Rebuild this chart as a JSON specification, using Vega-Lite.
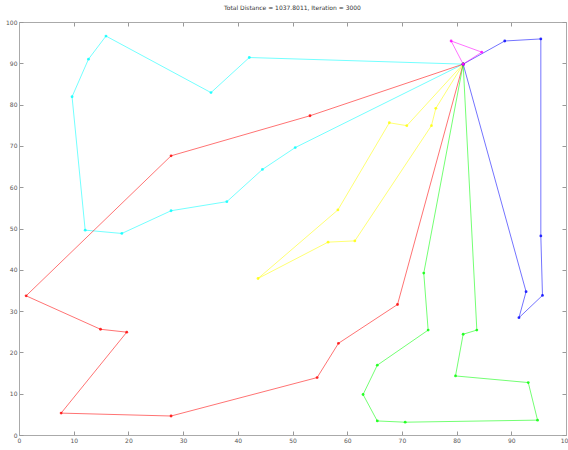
{
  "$schema": "https://vega.github.io/schema/vega-lite/v6.json",
  "width": 547,
  "height": 413,
  "autosize": "none",
  "padding": {"left": 19, "top": 22, "right": 2, "bottom": 15},
  "background": "white",
  "title": {"text": "Total Distance = 1037.8011, Iteration = 3000", "fontSize": 6, "font": "DejaVu Sans", "fontWeight": "normal", "color": "#333", "offset": 8},
  "config": {"view": {"stroke": "#aaa", "strokeWidth": 1}},
  "resolve": {"axis": {"x": "independent", "y": "independent"}},
  "data": {"values": [
    {"route": "cyan", "k": 0, "x": 81.2, "y": 89.8},
    {"route": "cyan", "k": 1, "x": 42.1, "y": 91.4},
    {"route": "cyan", "k": 2, "x": 35.1, "y": 82.9},
    {"route": "cyan", "k": 3, "x": 15.9, "y": 96.6},
    {"route": "cyan", "k": 4, "x": 12.7, "y": 91.0},
    {"route": "cyan", "k": 5, "x": 9.7, "y": 81.9},
    {"route": "cyan", "k": 6, "x": 12.1, "y": 49.6},
    {"route": "cyan", "k": 7, "x": 18.8, "y": 48.8},
    {"route": "cyan", "k": 8, "x": 27.8, "y": 54.3},
    {"route": "cyan", "k": 9, "x": 38.0, "y": 56.5},
    {"route": "cyan", "k": 10, "x": 44.5, "y": 64.3},
    {"route": "cyan", "k": 11, "x": 50.5, "y": 69.6},
    {"route": "cyan", "k": 12, "x": 81.2, "y": 89.8},
    {"route": "red", "k": 0, "x": 81.2, "y": 89.8},
    {"route": "red", "k": 1, "x": 53.2, "y": 77.3},
    {"route": "red", "k": 2, "x": 27.8, "y": 67.6},
    {"route": "red", "k": 3, "x": 1.3, "y": 33.7},
    {"route": "red", "k": 4, "x": 14.9, "y": 25.6},
    {"route": "red", "k": 5, "x": 19.7, "y": 24.9},
    {"route": "red", "k": 6, "x": 7.7, "y": 5.3},
    {"route": "red", "k": 7, "x": 27.8, "y": 4.6},
    {"route": "red", "k": 8, "x": 54.5, "y": 13.9},
    {"route": "red", "k": 9, "x": 58.4, "y": 22.2},
    {"route": "red", "k": 10, "x": 69.2, "y": 31.6},
    {"route": "red", "k": 11, "x": 81.2, "y": 89.8},
    {"route": "yellow", "k": 0, "x": 81.2, "y": 89.8},
    {"route": "yellow", "k": 1, "x": 76.2, "y": 79.1},
    {"route": "yellow", "k": 2, "x": 75.4, "y": 74.9},
    {"route": "yellow", "k": 3, "x": 61.4, "y": 47.0},
    {"route": "yellow", "k": 4, "x": 56.5, "y": 46.7},
    {"route": "yellow", "k": 5, "x": 43.7, "y": 37.9},
    {"route": "yellow", "k": 6, "x": 58.3, "y": 54.5},
    {"route": "yellow", "k": 7, "x": 67.7, "y": 75.6},
    {"route": "yellow", "k": 8, "x": 70.9, "y": 74.9},
    {"route": "yellow", "k": 9, "x": 81.2, "y": 89.8},
    {"route": "green", "k": 0, "x": 81.2, "y": 89.8},
    {"route": "green", "k": 1, "x": 74.0, "y": 39.2},
    {"route": "green", "k": 2, "x": 74.8, "y": 25.4},
    {"route": "green", "k": 3, "x": 65.5, "y": 16.9},
    {"route": "green", "k": 4, "x": 62.9, "y": 9.8},
    {"route": "green", "k": 5, "x": 65.5, "y": 3.4},
    {"route": "green", "k": 6, "x": 70.6, "y": 3.1},
    {"route": "green", "k": 7, "x": 94.8, "y": 3.6},
    {"route": "green", "k": 8, "x": 93.1, "y": 12.7},
    {"route": "green", "k": 9, "x": 79.8, "y": 14.3},
    {"route": "green", "k": 10, "x": 81.2, "y": 24.4},
    {"route": "green", "k": 11, "x": 83.7, "y": 25.4},
    {"route": "green", "k": 12, "x": 81.2, "y": 89.8},
    {"route": "blue", "k": 0, "x": 81.2, "y": 89.8},
    {"route": "blue", "k": 1, "x": 88.8, "y": 95.4},
    {"route": "blue", "k": 2, "x": 95.4, "y": 95.9},
    {"route": "blue", "k": 3, "x": 95.4, "y": 48.2},
    {"route": "blue", "k": 4, "x": 95.7, "y": 33.8},
    {"route": "blue", "k": 5, "x": 91.4, "y": 28.4},
    {"route": "blue", "k": 6, "x": 92.7, "y": 34.7},
    {"route": "blue", "k": 7, "x": 81.2, "y": 89.8},
    {"route": "magenta", "k": 0, "x": 81.2, "y": 89.8},
    {"route": "magenta", "k": 1, "x": 79.0, "y": 95.4},
    {"route": "magenta", "k": 2, "x": 84.6, "y": 92.7},
    {"route": "magenta", "k": 3, "x": 81.2, "y": 89.8}
  ]},
  "layer": [
    {
      "layer": [
        {"mark": {"type": "line", "strokeWidth": 1, "opacity": 0.55}, "encoding": {"order": {"field": "k", "type": "quantitative"}}},
        {"mark": {"type": "point", "filled": true, "size": 8, "opacity": 0.8}}
      ],
      "encoding": {
        "x": {"field": "x", "type": "quantitative", "scale": {"domain": [0, 100], "nice": false}, "axis": {"values": [0,10,20,30,40,50,60,70,80,90,100], "tickSize": -4, "tickColor": "#999", "domainColor": "#aaa", "labelFontSize": 6, "labelColor": "#555", "labelFont": "DejaVu Sans", "labelPadding": 6, "grid": false, "title": null, "labelFlush": false}},
        "y": {"field": "y", "type": "quantitative", "scale": {"domain": [0, 100], "nice": false}, "axis": {"values": [0,10,20,30,40,50,60,70,80,90,100], "tickSize": -4, "tickColor": "#999", "domainColor": "#aaa", "labelFontSize": 6, "labelColor": "#555", "labelFont": "DejaVu Sans", "labelPadding": 6, "grid": false, "title": null, "labelFlush": false}},
        "color": {"field": "route", "type": "nominal", "scale": {"domain": ["cyan", "red", "yellow", "green", "blue", "magenta"], "range": ["#00ffff", "#ff0000", "#ffff00", "#00ff00", "#0000ff", "#ff00ff"]}, "legend": null}
      }
    },
    {"mark": {"type": "point", "opacity": 0}, "encoding": {
      "x": {"field": "x", "type": "quantitative", "scale": {"domain": [0, 100], "nice": false}, "axis": {"orient": "top", "values": [0,10,20,30,40,50,60,70,80,90,100], "tickSize": -4, "tickColor": "#999", "domainColor": "#aaa", "labels": false, "grid": false, "title": null}},
      "y": {"field": "y", "type": "quantitative", "scale": {"domain": [0, 100], "nice": false}, "axis": {"orient": "right", "values": [0,10,20,30,40,50,60,70,80,90,100], "tickSize": -4, "tickColor": "#999", "domainColor": "#aaa", "labels": false, "grid": false, "title": null}}
    }}
  ]
}
